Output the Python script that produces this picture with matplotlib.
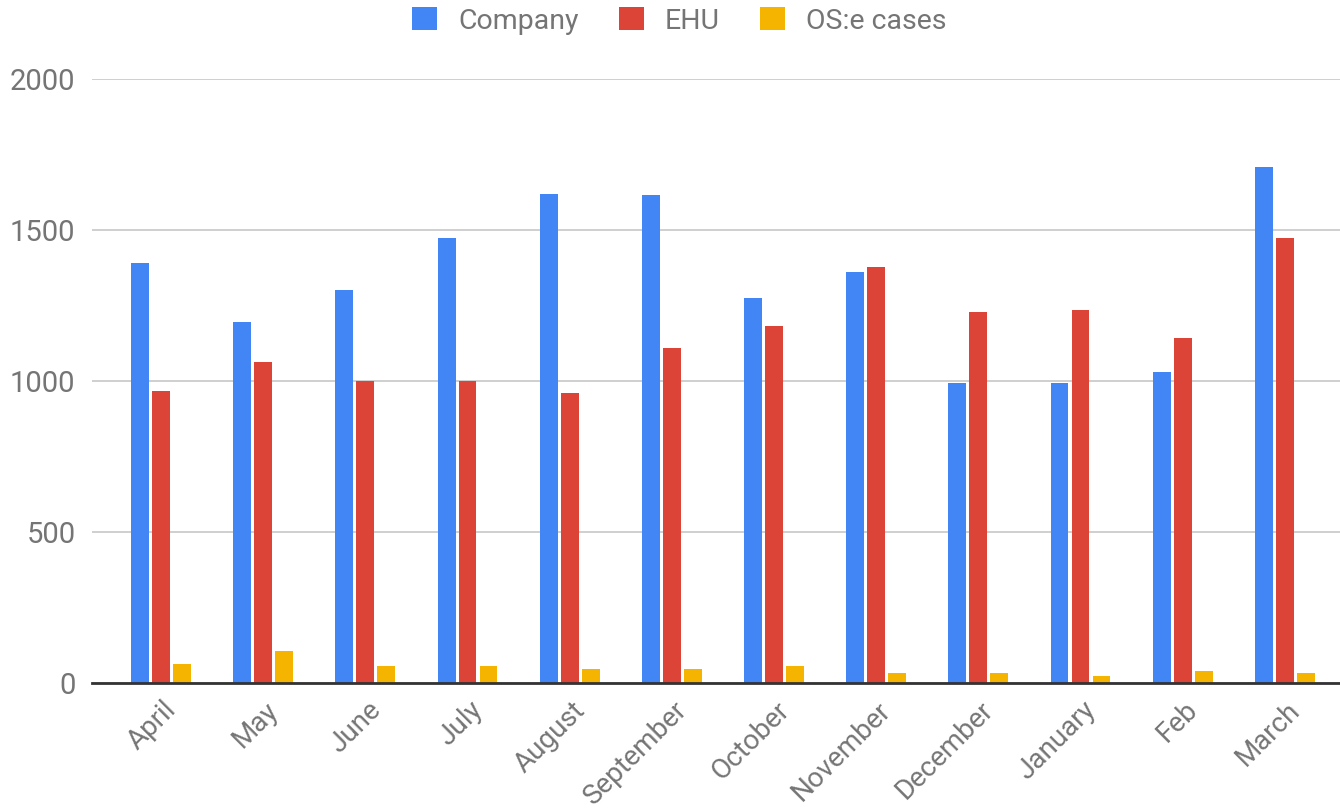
import matplotlib
matplotlib.use("Agg")
import matplotlib.pyplot as plt
import matplotlib.transforms as mtransforms
import numpy as np

months = ["April", "May", "June", "July", "August", "September", "October",
          "November", "December", "January", "Feb", "March"]
company = [1390, 1195, 1300, 1475, 1620, 1615, 1275, 1360, 993, 993, 1030, 1708]
ehu = [967, 1063, 1000, 1000, 960, 1110, 1182, 1377, 1228, 1235, 1142, 1473]
ose_cases = [64, 104, 56, 56, 47, 47, 56, 32, 32, 24, 40, 32]

series = [("Company", company, "#4285F4"),
          ("EHU", ehu, "#DB4437"),
          ("OS:e cases", ose_cases, "#F4B400")]

plt.rcParams['font.family'] = ['Roboto', 'DejaVu Sans']
text_color = "#757575"

fig = plt.figure(figsize=(13.4, 8.11), dpi=100)
ax = fig.add_axes([0.0687, 0.158, 0.9313, 0.7446])

x = np.arange(len(months))
width = 0.175
step = 0.205
for i, (name, vals, color) in enumerate(series):
    ax.bar(x + (i - 1) * step, vals, width, color=color, label=name, zorder=3)

ax.set_ylim(0, 2000)
ax.set_xlim(-0.675, 11.54)
ax.set_yticks([0, 500, 1000, 1500, 2000])
ax.yaxis.grid(True, color="#cccccc", linewidth=1.3, zorder=0)
ax.tick_params(axis='y', length=0, pad=12, labelsize=21, labelcolor=text_color)
ax.tick_params(axis='x', length=0, pad=8, labelsize=20, labelcolor=text_color)
ax.set_xticks(x)
ax.set_xticklabels(months, rotation=45, ha='right', va='center', rotation_mode='anchor')
shift = mtransforms.ScaledTranslation(0.11, -0.12, fig.dpi_scale_trans)
for lbl in ax.get_xticklabels():
    lbl.set_transform(lbl.get_transform() + shift)

for side in ["top", "right", "left"]:
    ax.spines[side].set_visible(False)
ax.spines["bottom"].set_color("#333333")
ax.spines["bottom"].set_linewidth(2)
ax.spines["bottom"].set_zorder(4)

leg = fig.legend(loc='center', bbox_to_anchor=(0.507, 0.974), ncol=3, frameon=False,
                 fontsize=20.5, handlelength=0.87, handleheight=0.87, columnspacing=1.4,
                 handletextpad=0.75)
for t in leg.get_texts():
    t.set_color(text_color)

fig.savefig("out.png", dpi=100)
